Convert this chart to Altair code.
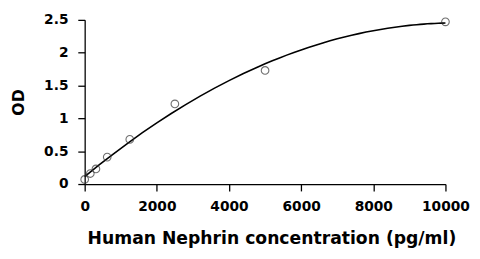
import altair as alt
import pandas as pd

conc = [0, 156, 312, 625, 1250, 2500, 5000, 10000]
od = [0.07, 0.16, 0.23, 0.41, 0.68, 1.22, 1.73, 2.47]

x_ticks = [0, 2000, 4000, 6000, 8000, 10000]
y_ticks = [0, 0.5, 1, 1.5, 2, 2.5]

df = pd.DataFrame({"conc": conc, "od": od})

xenc = alt.X("conc:Q", scale=alt.Scale(domain=[0, 10000], nice=False),
             axis=alt.Axis(values=x_ticks, format="d", labelFlush=False,
                           title="Human Nephrin concentration (pg/ml)",
                           titleFont="DejaVu Sans", titleFontSize=17.5,
                           titleX=190,
                           labelPadding=9, titlePadding=16))
yenc = alt.Y("od:Q", scale=alt.Scale(domain=[0, 2.5], nice=False),
             axis=alt.Axis(values=y_ticks, format="~g", title="OD",
                           titleFont="DejaVu Sans", titleFontSize=16,
                           labelPadding=10, titlePadding=17))

base = alt.Chart(df)

points = base.mark_point(shape="circle", filled=False, size=60, color="#333333",
                         strokeWidth=1.1).encode(x=xenc, y=yenc)

fit = base.transform_regression("conc", "od", method="poly", order=2,
                                extent=[0, 10000]).mark_line(
    color="black", strokeWidth=1.6).encode(x=xenc, y=yenc)

chart = (fit + points).properties(
    width=472, height=241,
    autosize=alt.AutoSizeParams(type="fit", contains="padding"),
    padding={"left": 3, "top": 3, "right": 2, "bottom": 0},
).configure_axis(
    grid=False,
    domainColor="black",
    domainWidth=1.3,
    tickColor="black",
    tickWidth=1.3,
    tickSize=7,
    labelFont="DejaVu Sans",
    labelFontSize=14,
    labelFontWeight="bold",
    labelColor="black",
    titleFontWeight="bold",
    titleColor="black",
).configure_view(stroke=None)

chart.save("out.html", embed_options={"renderer": "svg", "actions": False})
